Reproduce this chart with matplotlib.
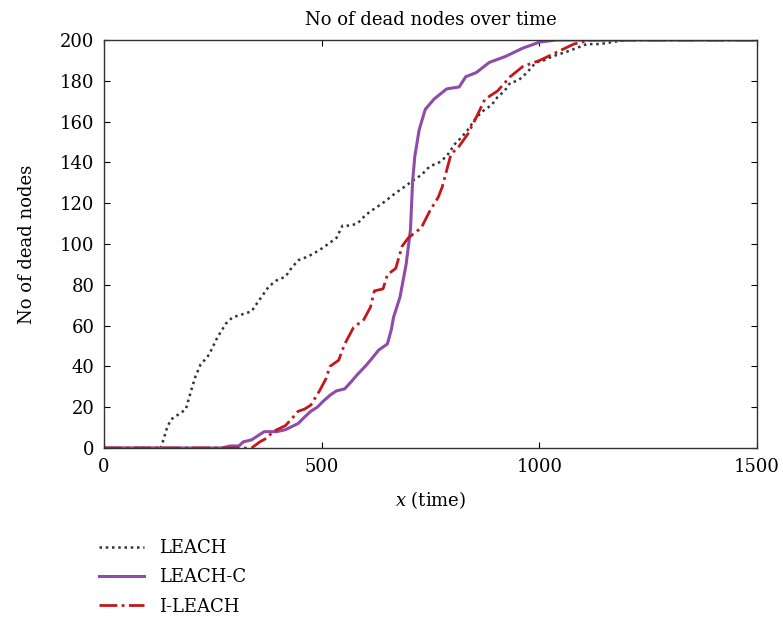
import matplotlib
matplotlib.use("Agg")
import matplotlib.pyplot as plt

plt.rcParams['font.family'] = ['DejaVu Serif']
plt.rcParams['mathtext.fontset'] = 'dejavuserif'

# LEACH
leach_x = [0, 130, 135, 145, 154, 175, 188, 200, 210, 222, 235, 242, 260, 280, 295, 310, 325, 339, 355, 378,
           395, 417, 430, 446, 470, 495, 515, 534, 548, 565, 582, 600, 612, 640, 670, 690, 709, 730, 748,
           770, 787, 806, 820, 836, 855, 875, 890, 904, 920, 933, 950, 962, 980, 992, 1010, 1031, 1045,
           1060, 1085, 1109, 1140, 1168, 1200, 1500]
leach_y = [0, 0, 3, 10, 14, 17, 19, 28, 35, 41, 44, 46, 54, 61, 64, 65, 66, 67, 72, 79,
           82, 84, 88, 92, 94, 97, 100, 103, 109, 109, 110, 114, 116, 120, 125, 128, 131, 134, 138,
           140, 143, 149, 152, 156, 162, 166, 168, 172, 175, 179, 180, 182, 186, 189, 190, 192, 193,
           194, 196, 198, 198, 199, 200, 200]

# LEACH-C
leachc_x = [0, 271, 290, 310, 320, 339, 368, 397, 417, 446, 460, 475, 490, 504, 520, 534, 553, 570, 582,
            600, 612, 631, 651, 660, 665, 680, 694, 704, 709, 714, 724, 738, 758, 787, 816, 831, 855,
            885, 923, 962, 1001, 1040, 1500]
leachc_y = [0, 0, 1, 1, 3, 4, 8, 8, 9, 12, 15, 18, 20, 23, 26, 28, 29, 33, 36,
            40, 43, 48, 51, 58, 64, 74, 90, 107, 131, 143, 156, 166, 171, 176, 177, 182, 184,
            189, 192, 196, 199, 200, 200]

# I-LEACH
ileach_x = [0, 339, 358, 375, 388, 417, 430, 446, 460, 475, 495, 510, 519, 539, 553, 573, 597, 612, 621,
            641, 651, 670, 685, 699, 729, 748, 768, 777, 787, 797, 816, 836, 855, 875, 904, 933, 962,
            1001, 1040, 1079, 1118, 1500]
ileach_y = [0, 0, 3, 5, 8, 11, 14, 18, 19, 21, 28, 34, 40, 43, 51, 59, 63, 69, 77,
            78, 85, 88, 99, 103, 108, 116, 123, 128, 136, 144, 148, 154, 162, 171, 175, 182, 187,
            190, 194, 198, 200, 200]

xticks = [0, 500, 1000, 1500]
yticks = [0, 20, 40, 60, 80, 100, 120, 140, 160, 180, 200]

fig = plt.figure(figsize=(7.83, 6.21), dpi=100)
ax = fig.add_axes([0.1328, 0.2786, 0.834, 0.657])

ax.plot(leach_x, leach_y, color='#333333', linestyle=(0, (1, 1.5)),
        linewidth=1.8, label='LEACH')
ax.plot(leachc_x, leachc_y, color='#8E4CA8', linestyle='-',
        linewidth=2.2, label='LEACH-C')
ax.plot(ileach_x, ileach_y, color='#C4161C', linestyle='-.',
        linewidth=2.0, label='I-LEACH')

ax.set_xlim(0, 1500)
ax.set_ylim(0, 200)
ax.set_xticks(xticks)
ax.set_yticks(yticks)
ax.tick_params(direction='in', top=True, right=True, labelsize=13, length=4, pad=7)
for s in ax.spines.values():
    s.set_linewidth(1.0)
    s.set_color('#333333')

ax.set_title('No of dead nodes over time', fontsize=13, pad=11)
ax.set_ylabel('No of dead nodes', fontsize=13, labelpad=17)
ax.set_xlabel('$x$ (time)', fontsize=13, labelpad=10)

handles, labels = ax.get_legend_handles_labels()
fig.legend(handles, labels, loc='upper left', bbox_to_anchor=(0.106, 0.158),
           frameon=False, fontsize=13, handlelength=2.5, labelspacing=0.62, handletextpad=0.8)

fig.savefig('out.png', dpi=100)
